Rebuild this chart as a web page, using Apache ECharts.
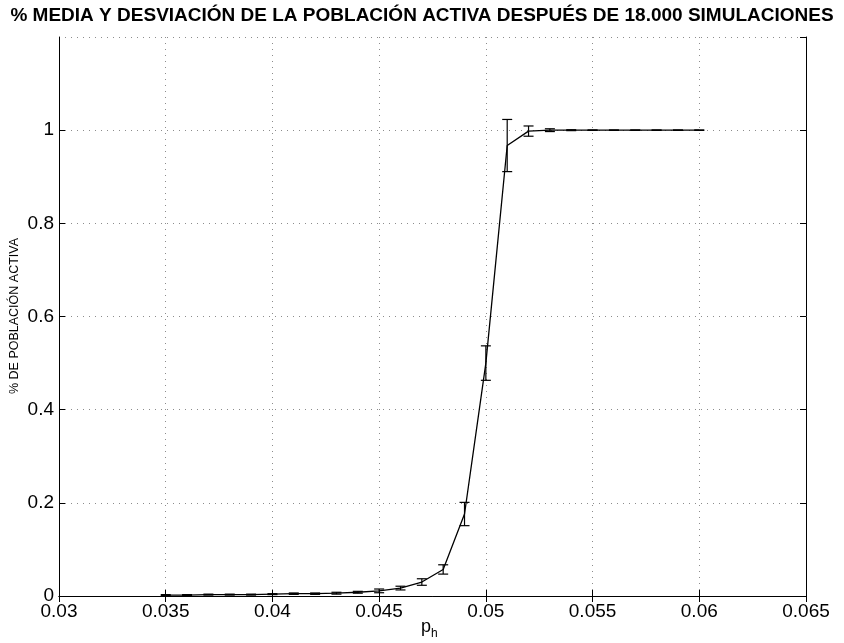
<!DOCTYPE html>
<html lang="es">
<head>
    <title>poblacion activa</title>
    <meta charset="utf-8">
    <style>
        html, body { margin: 0; padding: 0; background: #fff; }
    </style>
</head>
<body>
<script type="text/javascript" src="https://cdn.jsdelivr.net/npm/echarts@6/dist/echarts.min.js"></script>
<div id="main" style="width: 844px;height: 643px"></div>
<script type="text/javascript">
    // p_h (probabilidad) y resultados de las simulaciones
    var ph = [0.035, 0.036, 0.037, 0.038, 0.039, 0.040, 0.041, 0.042, 0.043, 0.044,
              0.045, 0.046, 0.047, 0.048, 0.049, 0.050, 0.051, 0.052, 0.053, 0.054,
              0.055, 0.056, 0.057, 0.058, 0.059, 0.060];
    var media = [0.002, 0.002, 0.003, 0.003, 0.003, 0.004, 0.005, 0.005, 0.006, 0.008,
                 0.011, 0.017, 0.030, 0.057, 0.176, 0.500, 0.967, 0.998, 1.000, 1.000,
                 1.000, 1.000, 1.000, 1.000, 1.000, 1.000];
    var desviacion = [0.001, 0.001, 0.001, 0.001, 0.001, 0.001, 0.0015, 0.0015, 0.002, 0.002,
                      0.004, 0.004, 0.007, 0.010, 0.025, 0.037, 0.056, 0.011, 0.003, 0.001,
                      0.0005, 0.0005, 0.0005, 0.0005, 0.0005, 0.0005];

    var lineData = [];
    var errData = [];
    for (var i = 0; i < ph.length; i++) {
        lineData.push([ph[i], media[i]]);
        errData.push([ph[i], media[i], desviacion[i]]);
    }

    var gridStyle = { color: '#8c8c8c', width: 1, type: [1, 5] };
    var fontFam = '"Liberation Sans", Arial, Helvetica, sans-serif';

    var dom = document.getElementById('main');
    var myChart = echarts.init(dom);
    var option = {
        animation: false,
        backgroundColor: '#fff',
        title: {
            text: '% MEDIA Y DESVIACIÓN DE LA POBLACIÓN ACTIVA DESPUÉS DE 18.000 SIMULACIONES',
            left: 'center',
            top: 1,
            textStyle: { fontSize: 19, fontWeight: 'bold', color: '#000', fontFamily: fontFam }
        },
        // nombres de los ejes como texto libre (p_h con subindice)
        graphic: [{
            type: 'text',
            x: 15,
            y: 316,
            rotation: Math.PI / 2,
            style: {
                text: '% DE POBLACIÓN ACTIVA',
                fontSize: 12.5, fontFamily: fontFam, fill: '#000',
                align: 'center', verticalAlign: 'middle'
            }
        }, {
            type: 'text',
            x: 431,
            y: 627,
            style: {
                text: 'p',
                fontSize: 18, fontFamily: fontFam, fill: '#000',
                align: 'right', verticalAlign: 'middle'
            }
        }, {
            type: 'text',
            x: 431,
            y: 634,
            style: {
                text: 'h',
                fontSize: 12, fontFamily: fontFam, fill: '#000',
                align: 'left', verticalAlign: 'middle'
            }
        }],
        grid: { left: 59, right: 38, top: 37, bottom: 47, containLabel: false, outerBoundsMode: 'none' },
        xAxis: [{
            type: 'value',
            min: 0.03,
            max: 0.065,
            interval: 0.005,
            axisLine: { lineStyle: { color: '#000', width: 1 } },
            axisTick: { inside: true, length: 6, lineStyle: { color: '#000' } },
            axisLabel: {
                color: '#000', fontSize: 19, fontFamily: fontFam, margin: 6,
                formatter: function (v) { return String(+v.toFixed(3)); }
            },
            splitLine: { show: true, lineStyle: gridStyle }
        }, {
            type: 'value',
            position: 'top',
            min: 0.03,
            max: 0.065,
            interval: 0.005,
            axisLine: { show: true, lineStyle: { color: '#000', width: 1 } },
            axisTick: { show: true, inside: true, length: 6, lineStyle: { color: '#000' } },
            axisLabel: { show: false },
            splitLine: { show: false }
        }],
        yAxis: [{
            type: 'value',
            min: 0,
            max: 1.2,
            interval: 0.2,
            axisLine: { show: true, lineStyle: { color: '#000', width: 1 } },
            axisTick: { show: true, inside: true, length: 6, lineStyle: { color: '#000' } },
            axisLabel: {
                color: '#000', fontSize: 19, fontFamily: fontFam, margin: 5,
                showMaxLabel: false,
                formatter: function (v) { return String(+v.toFixed(1)); }
            },
            splitLine: { show: true, lineStyle: gridStyle }
        }, {
            type: 'value',
            position: 'right',
            min: 0,
            max: 1.2,
            interval: 0.2,
            axisLine: { show: true, lineStyle: { color: '#000', width: 1 } },
            axisTick: { show: true, inside: true, length: 6, lineStyle: { color: '#000' } },
            axisLabel: { show: false },
            splitLine: { show: false }
        }],
        series: [{
            type: 'line',
            data: lineData,
            symbol: 'none',
            lineStyle: { color: '#000', width: 1.3 },
            z: 3
        }, {
            // barras de error: media +/- desviacion
            type: 'custom',
            data: errData,
            encode: { x: 0, y: 1 },
            z: 4,
            renderItem: function (params, api) {
                var x = api.value(0);
                var m = api.value(1);
                var s = api.value(2);
                var top = api.coord([x, m + s]);
                var bot = api.coord([x, m - s]);
                var w = 5;
                var st = { stroke: '#000', lineWidth: 1.2 };
                return {
                    type: 'group',
                    children: [
                        { type: 'line', shape: { x1: top[0], y1: top[1], x2: bot[0], y2: bot[1] }, style: st },
                        { type: 'line', shape: { x1: top[0] - w, y1: top[1], x2: top[0] + w, y2: top[1] }, style: st },
                        { type: 'line', shape: { x1: bot[0] - w, y1: bot[1], x2: bot[0] + w, y2: bot[1] }, style: st }
                    ]
                };
            }
        }]
    };
    myChart.setOption(option);
</script>
</body>
</html>
